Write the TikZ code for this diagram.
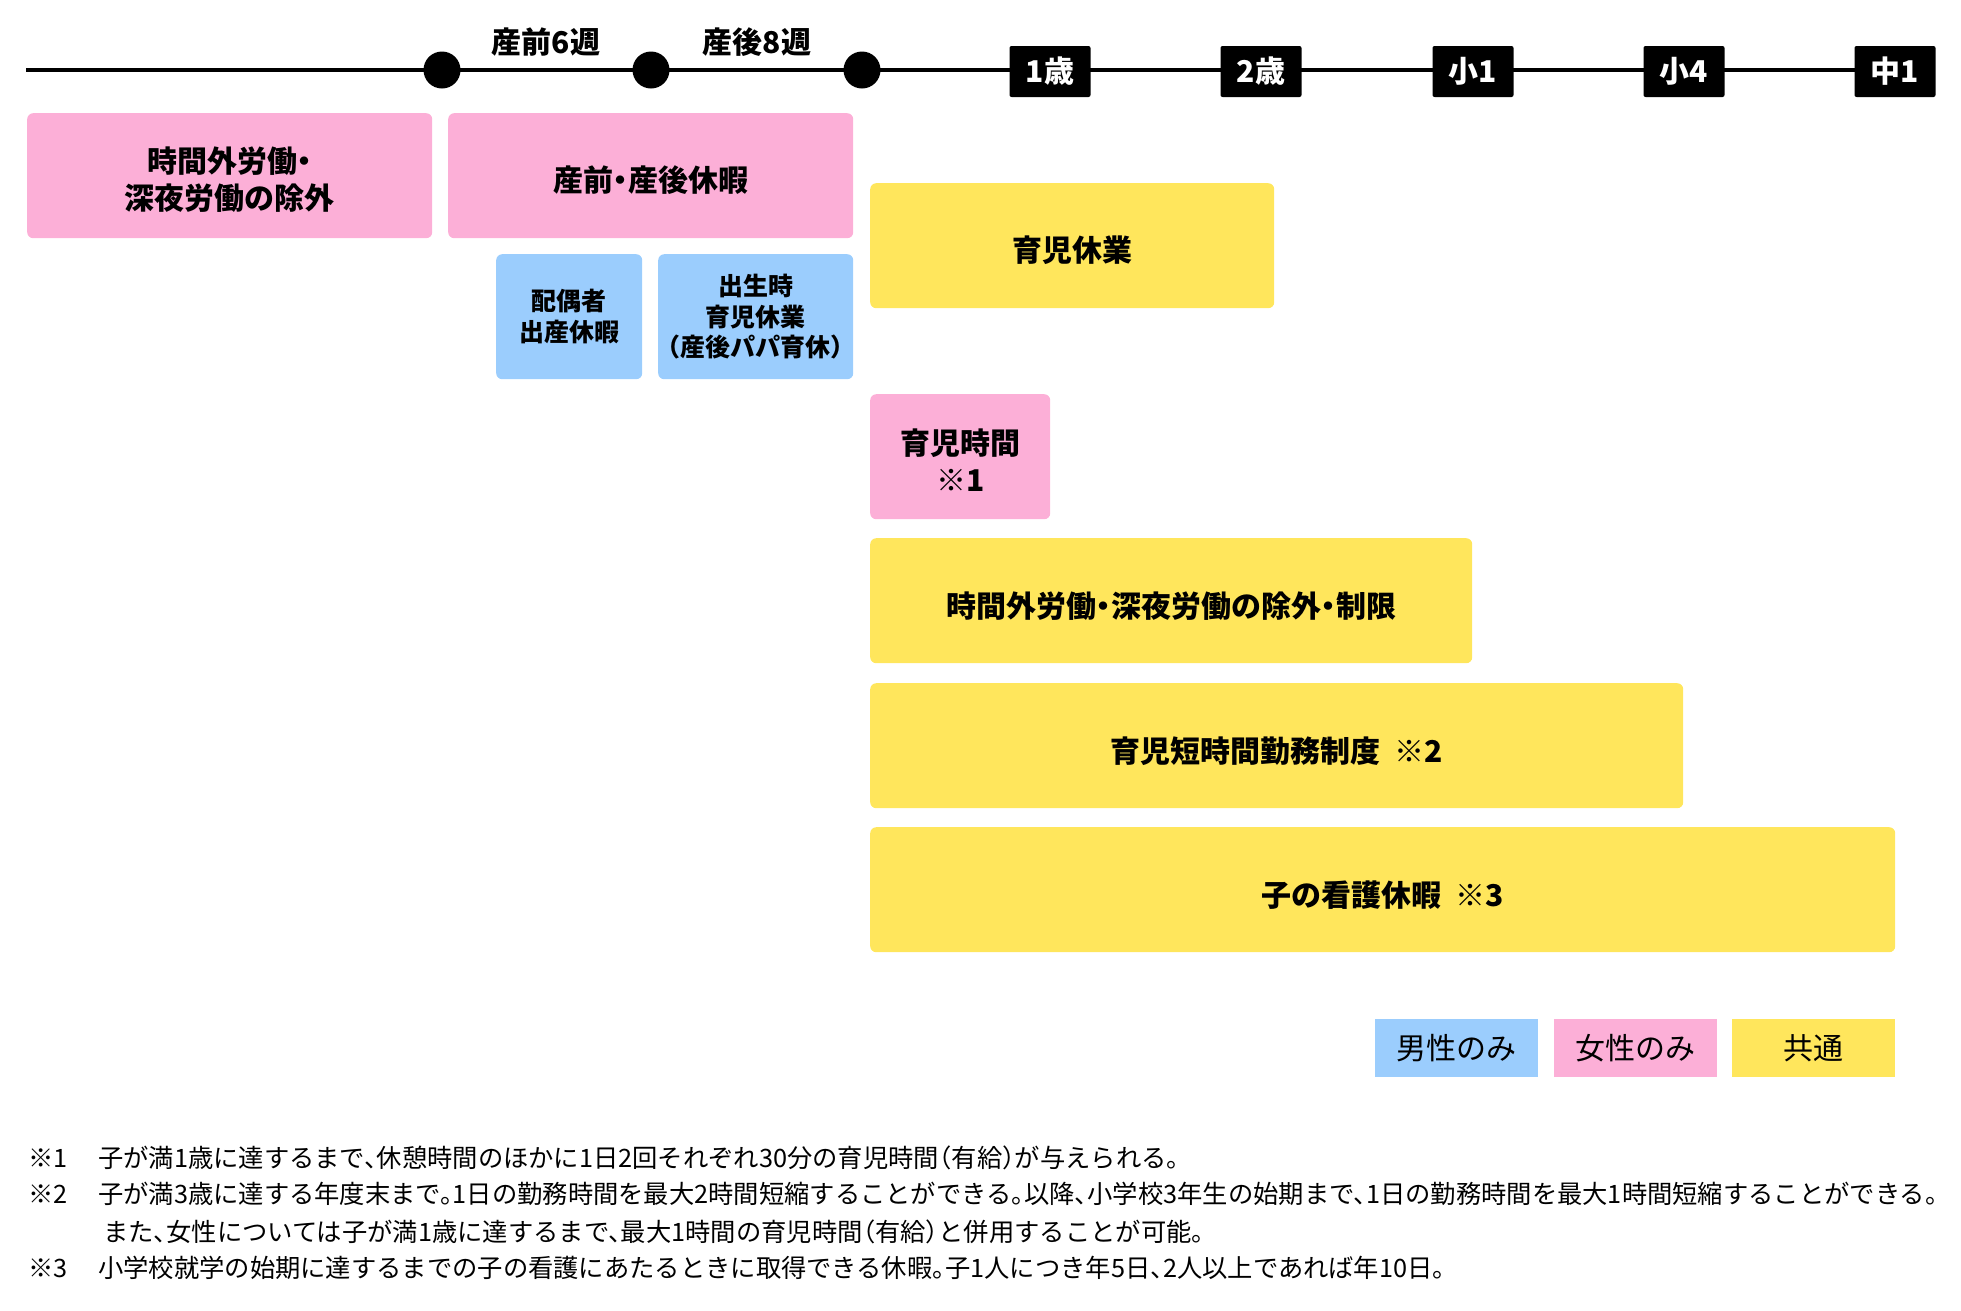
\documentclass[tikz,border=0pt]{standalone}
\usepackage{fontspec}
\setmainfont{Noto Sans CJK JP}[CharacterWidth=AlternateHalf]
\definecolor{cpink}{HTML}{FCAFD7}
\definecolor{cblue}{HTML}{9BCDFD}
\definecolor{cyel}{HTML}{FFE65C}
\tikzset{
  bx/.style={rounded corners=6pt, inner sep=0pt, anchor=north west},
  pinkbox/.style={bx, fill=cpink},
  bluebox/.style={bx, fill=cblue},
  yelbox/.style={bx, fill=cyel},
  btxt/.style={inner sep=0pt, align=center, font=\bfseries\fontsize{30}{37}\selectfont},
  bbtxt/.style={inner sep=0pt, align=center, font=\bfseries\fontsize{25}{30.5}\selectfont},
  mk/.style={fill=black, text=white, rounded corners=2pt, minimum width=81, minimum height=51,
    inner sep=0pt, font=\bfseries\fontsize{30}{30}\selectfont},
  dot/.style={circle, fill=black, minimum size=37, inner sep=0pt},
  tlab/.style={font=\bfseries\fontsize{30}{30}\selectfont},
  leg/.style={inner sep=0pt, minimum width=163, minimum height=58, anchor=north west,
    font=\fontsize{30}{30}\selectfont},
  fn/.style={inner sep=0pt, anchor=west, font=\fontsize{25.3}{25.3}\selectfont}
}
\begin{document}
\begin{tikzpicture}[x=1pt,y=-1pt]
\useasboundingbox (0,0) rectangle (1961,1310);
% timeline
\coordinate (tl0) at (26,70);
\coordinate (tl1) at (1935,70);
\draw[line width=4pt] (tl0) -- (tl1);
\node[dot] (c1) at (442,70) {};
\node[dot] (c2) at (651,70) {};
\node[dot] (c3) at (862,70) {};
\node[tlab] (l1) at (546,42) {産前6週};
\node[tlab] (l2) at (757,42) {産後8週};
\node[mk] (m1) at (1050,71.5) {1歳};
\node[mk] (m2) at (1261,71.5) {2歳};
\node[mk] (m3) at (1473,71.5) {小1};
\node[mk] (m4) at (1684,71.5) {小4};
\node[mk] (m5) at (1895,71.5) {中1};
% boxes
\node[pinkbox, minimum width=405, minimum height=125] (b1) at (27,113) {};
\node[pinkbox, minimum width=405, minimum height=125] (b2) at (448,113) {};
\node[bluebox, minimum width=146, minimum height=125] (b3) at (496,254) {};
\node[bluebox, minimum width=195, minimum height=125] (b4) at (658,254) {};
\node[yelbox, minimum width=404, minimum height=125] (b5) at (870,183) {};
\node[pinkbox, minimum width=180, minimum height=125] (b6) at (870,394) {};
\node[yelbox, minimum width=602, minimum height=125] (b7) at (870,538) {};
\node[yelbox, minimum width=813, minimum height=125] (b8) at (870,683) {};
\node[yelbox, minimum width=1025, minimum height=125] (b9) at (870,827) {};
\node[btxt] (t1) at ([yshift=-4pt]b1.center) {時間外労働・\\深夜労働の除外};
\node[btxt] (t2) at ([yshift=-4pt]b2.center) {産前・産後休暇};
\node[bbtxt] (t3) at (b3.center) {配偶者\\出産休暇};
\node[bbtxt] (t4) at (b4.center) {出生時\\育児休業\\（産後パパ育休）};
\node[btxt] (t5) at ([yshift=-4pt]b5.center) {育児休業};
\node[btxt] (t6) at ([yshift=-3pt]b6.center) {育児時間\\※1};
\node[btxt] (t7) at ([yshift=-5pt]b7.center) {時間外労働・深夜労働の除外・制限};
\node[btxt] (t8) at ([yshift=-5pt]b8.center) {育児短時間勤務制度\hspace{0.45em}※2};
\node[btxt] (t9) at ([yshift=-5pt]b9.center) {子の看護休暇\hspace{0.45em}※3};
% legend
\node[leg, fill=cblue] (g1) at (1375,1019) {男性のみ};
\node[leg, fill=cpink] (g2) at (1554,1019) {女性のみ};
\node[leg, fill=cyel] (g3) at (1732,1019) {共通};
% footnotes
\node[fn] (f1m) at (28,1158) {※1};
\node[fn] (f1) at (98,1158) {子が満1歳に達するまで、休憩時間のほかに1日2回それぞれ30分の育児時間（有給）が与えられる。};
\node[fn] (f2m) at (28,1194) {※2};
\node[fn] (f2) at (98,1194) {子が満3歳に達する年度末まで。1日の勤務時間を最大2時間短縮することができる。以降、小学校3年生の始期まで、1日の勤務時間を最大1時間短縮することができる。};
\node[fn] (f3) at (103,1232) {また、女性については子が満1歳に達するまで、最大1時間の育児時間（有給）と併用することが可能。};
\node[fn] (f4m) at (28,1268) {※3};
\node[fn] (f4) at (98,1268) {小学校就学の始期に達するまでの子の看護にあたるときに取得できる休暇。子1人につき年5日、2人以上であれば年10日。};
\end{tikzpicture}
\end{document}
